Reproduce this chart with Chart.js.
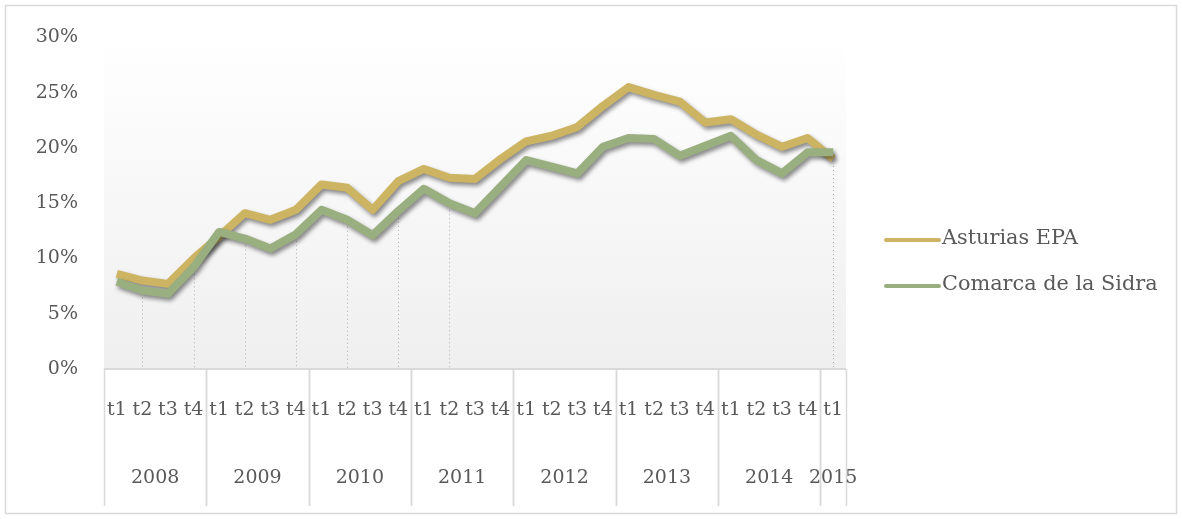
<!DOCTYPE html>
<html>
<head>
<meta charset="utf-8">
<script src="https://cdn.jsdelivr.net/npm/chart.js@4"></script>
<style>
  html, body { margin: 0; padding: 0; background: #ffffff; }
  #wrap { width: 1182px; height: 519px; }
</style>
</head>
<body>
<div id="wrap"><canvas id="chart" width="1182" height="519"></canvas></div>
<script>
// quarter labels on the x axis (2008 t1 .. 2015 t1)
const quarters = [
  't1','t2','t3','t4', 't1','t2','t3','t4', 't1','t2','t3','t4', 't1','t2','t3','t4',
  't1','t2','t3','t4', 't1','t2','t3','t4', 't1','t2','t3','t4', 't1'
];
// year groups and how many quarters each spans
const years = ['2008','2009','2010','2011','2012','2013','2014','2015'];
const yearQuarters = [4, 4, 4, 4, 4, 4, 4, 1];

// series values, percent
const asturiasEPA = [
  8.6, 8.0, 7.7, 10.0, 12.0, 14.1, 13.5, 14.4, 16.7, 16.4, 14.4, 17.0, 18.1, 17.3, 17.2,
  19.0, 20.6, 21.1, 21.9, 23.8, 25.5, 24.8, 24.2, 22.3, 22.6, 21.2, 20.1, 20.9, 19.0
];
const comarcaSidra = [
  7.9, 7.1, 6.8, 9.2, 12.4, 11.8, 10.9, 12.2, 14.4, 13.5, 12.1, 14.3, 16.3, 15.0, 14.1,
  16.5, 18.9, 18.3, 17.7, 20.1, 20.9, 20.8, 19.3, 20.2, 21.1, 18.9, 17.7, 19.6, 19.6
];
const seriesNames = ['Asturias EPA', 'Comarca de la Sidra'];
// points that carry a faint drop line down to the axis
const dropLineIdx = [1, 3, 5, 7, 9, 11, 13, 28];

const FONT = "'DejaVu Serif', serif";
const TEXT = '#595959';
const GOLD = '#cdb463';
const GREEN = '#9aaf80';

// background frame, plot gradient, drop lines, year row, legend
const decor = {
  id: 'decor',
  beforeDraw(chart) {
    const c = chart.ctx;
    const a = chart.chartArea;
    c.save();
    c.fillStyle = '#ffffff';
    c.fillRect(0, 0, chart.width, chart.height);
    c.strokeStyle = '#d9d9d9';
    c.lineWidth = 1.5;
    c.strokeRect(5.5, 5.5, chart.width - 11, chart.height - 11);
    const g = c.createLinearGradient(0, a.top, 0, a.bottom);
    g.addColorStop(0, '#ffffff');
    g.addColorStop(1, '#efefef');
    c.fillStyle = g;
    c.fillRect(a.left, a.top, a.right - a.left, a.bottom - a.top);

    // drop lines
    const xs = chart.scales.x, ys = chart.scales.y;
    c.strokeStyle = '#b0b0b0';
    c.lineWidth = 1;
    c.setLineDash([1, 3]);
    dropLineIdx.forEach(i => {
      const x = Math.round(xs.getPixelForValue(i)) + 0.5;
      const v = Math.min(asturiasEPA[i], comarcaSidra[i]);
      c.beginPath();
      c.moveTo(x, ys.getPixelForValue(v) + 7);
      c.lineTo(x, a.bottom);
      c.stroke();
    });
    c.restore();
  },
  afterDraw(chart) {
    const c = chart.ctx;
    const a = chart.chartArea;
    const xs = chart.scales.x;
    const half = (xs.getPixelForValue(1) - xs.getPixelForValue(0)) / 2;
    c.save();
    // axis line
    c.strokeStyle = '#d9d9d9';
    c.lineWidth = 2;
    c.beginPath();
    c.moveTo(a.left, a.bottom);
    c.lineTo(a.right, a.bottom);
    c.stroke();
    // year separators and labels
    c.lineWidth = 1.5;
    c.font = '19px ' + FONT;
    c.fillStyle = TEXT;
    c.textAlign = 'center';
    c.textBaseline = 'middle';
    let start = 0;
    years.forEach((y, k) => {
      const end = start + yearQuarters[k] - 1;
      const x0 = xs.getPixelForValue(start) - half;
      const x1 = xs.getPixelForValue(end) + half;
      [x0, x1].forEach(x => {
        c.beginPath();
        c.moveTo(Math.round(x) + 0.5, a.bottom);
        c.lineTo(Math.round(x) + 0.5, 506);
        c.stroke();
      });
      c.fillText(y, (x0 + x1) / 2, 478);
      start = end + 1;
    });
    // legend
    const legY = [240, 286];
    const legCol = [GOLD, GREEN];
    c.textAlign = 'left';
    c.font = '20.8px ' + FONT;
    seriesNames.forEach((n, k) => {
      c.strokeStyle = legCol[k];
      c.lineWidth = 4;
      c.lineCap = 'round';
      c.beginPath();
      c.moveTo(886, legY[k]);
      c.lineTo(939, legY[k]);
      c.stroke();
      c.fillText(n, 942, legY[k] - 1);
    });
    c.restore();
  },
  beforeDatasetDraw(chart) {
    const c = chart.ctx;
    c.save();
    c.shadowColor = 'rgba(0,0,0,0.45)';
    c.shadowBlur = 4;
    c.shadowOffsetX = 2;
    c.shadowOffsetY = 3;
  },
  afterDatasetDraw(chart) {
    chart.ctx.restore();
  }
};

const ctx = document.getElementById('chart').getContext('2d');
const chart = new Chart(ctx, {
  type: 'line',
  data: {
    labels: quarters,
    datasets: [{
      label: seriesNames[0],
      data: asturiasEPA,
      borderColor: GOLD,
      borderWidth: 8,
      pointRadius: 0,
      tension: 0,
      borderJoinStyle: 'round',
      order: 1
    }, {
      label: seriesNames[1],
      data: comarcaSidra,
      borderColor: GREEN,
      borderWidth: 8,
      pointRadius: 0,
      tension: 0,
      borderJoinStyle: 'round',
      order: 0
    }]
  },
  options: {
    responsive: false,
    animation: false,
    layout: { padding: { left: 0, top: 34, right: 336, bottom: 0 } },
    plugins: { legend: { display: false }, tooltip: { enabled: false } },
    scales: {
      x: {
        offset: true,
        grid: { display: false, drawTicks: false, offset: true },
        border: { display: false },
        ticks: {
          autoSkip: false, maxRotation: 0, padding: 30,
          color: TEXT, font: { family: FONT, size: 19 }
        },
        afterFit: s => { s.height = 150; }
      },
      y: {
        min: 0, max: 30,
        grid: { display: false, drawTicks: false },
        border: { display: false },
        ticks: {
          stepSize: 5, padding: 26, color: TEXT,
          font: { family: FONT, size: 19 },
          callback: v => v + '%'
        },
        afterFit: s => { s.width = 104; }
      }
    }
  },
  plugins: [decor]
});
</script>
</body>
</html>
